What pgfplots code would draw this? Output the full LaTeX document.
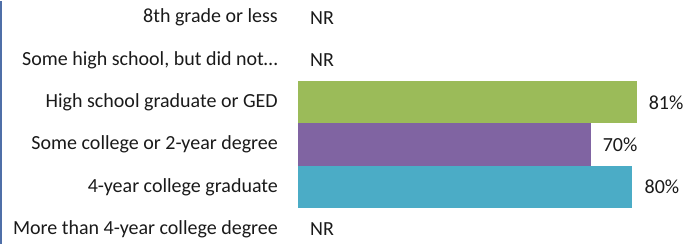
\documentclass[border=0pt]{standalone}
\usepackage{pgfplots}
\pgfplotsset{compat=1.18}
\usepackage{fontspec}
\setmainfont{Carlito}
\definecolor{cgreen}{HTML}{9BBB59}
\definecolor{cpurple}{HTML}{8064A2}
\definecolor{cteal}{HTML}{4BACC6}
\definecolor{cframe}{HTML}{4F6FA8}
\definecolor{ctext}{HTML}{1A1A1A}
\begin{document}
\begin{tikzpicture}
\begin{axis}[
  x=4.18pt, y=42.3pt,
  y dir=reverse,
  bar width=42.3pt,
  bar shift=0pt,
  xmin=0, xmax=93.5,
  ymin=-0.40, ymax=5.34,
  axis line style={draw=none},
  xtick=\empty,
  ytick={0,1,2,3,4,5},
  yticklabels={8th grade or less, {Some high school, but did not\ldots}, High school graduate or GED, Some college or 2-year degree, 4-year college graduate, More than 4-year college degree},
  major tick length=0pt,
  /pgf/number format/assume math mode=true,
  yticklabel style={font=\fontsize{20}{22}\selectfont, text=ctext, anchor=east, inner xsep=0pt, xshift=-20pt},
  clip=false,
  nodes near coords style={font=\fontsize{20}{22}\selectfont, text=ctext, anchor=west, inner xsep=0pt, xshift=12pt},
]
\addplot[xbar, draw=none, fill=cgreen, nodes near coords={\pgfmathprintnumber{\pgfplotspointmeta}\%}, point meta=x] coordinates {(81,2)};
\addplot[xbar, draw=none, fill=cpurple, nodes near coords={\pgfmathprintnumber{\pgfplotspointmeta}\%}, point meta=x] coordinates {(70,3)};
\addplot[xbar, draw=none, fill=cteal, nodes near coords={\pgfmathprintnumber{\pgfplotspointmeta}\%}, point meta=x] coordinates {(80,4)};
\addplot[only marks, mark=none, draw=none, nodes near coords={NR}] coordinates {(0,0) (0,1) (0,5)};
\end{axis}
\draw[cframe, line width=1.6pt] ([xshift=-297.2pt]current axis.south west) -- ([xshift=-297.2pt]current axis.north west);
\end{tikzpicture}
\end{document}
